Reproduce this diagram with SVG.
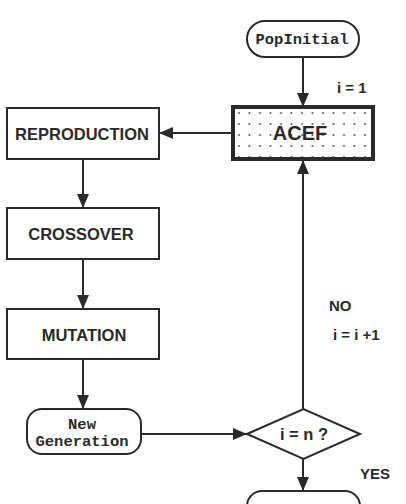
<svg xmlns="http://www.w3.org/2000/svg" width="406" height="504" viewBox="0 0 406 504">
<defs>
<marker id="ah" viewBox="0 0 14 12" refX="14" refY="6" markerWidth="14" markerHeight="12" markerUnits="userSpaceOnUse" orient="auto">
<path d="M0,0 L14,6 L0,12 Z" fill="#2a2a2a"/>
</marker>
<pattern id="dots" x="233" y="107" width="10.5" height="11" patternUnits="userSpaceOnUse">
<circle cx="6" cy="6" r="0.9" fill="#444"/>
</pattern>
<style>
.box{fill:#fff;stroke:#2a2a2a;stroke-width:2}
.lbl{font-family:"Liberation Sans",Arial,sans-serif;font-weight:bold;fill:#2a2a2a;text-anchor:middle}
.mono{font-family:"Liberation Mono","Courier New",monospace;font-weight:bold;fill:#2a2a2a;text-anchor:middle;font-size:15.5px}
.ann{font-family:"Liberation Sans",Arial,sans-serif;font-weight:bold;fill:#2a2a2a;font-size:15px}
.edge{fill:none;stroke:#2a2a2a;stroke-width:2;marker-end:url(#ah)}
</style>
</defs>
<rect width="406" height="504" fill="#fff"/>
<g id="connectors">
<path class="edge" d="M303,57 V107"/>
<path class="edge" d="M233,133 H159"/>
<path class="edge" d="M83,159 V208"/>
<path class="edge" d="M83,259 V309"/>
<path class="edge" d="M83,359 V409"/>
<path class="edge" d="M141,434 H247"/>
<path class="edge" d="M303,409 V160"/>
<path class="edge" d="M303,459 V491"/>
</g>
<g id="popinitial">
<rect class="box" x="247" y="21" width="112" height="36" rx="18"/>
<text class="mono" x="302" y="44">PopInitial</text>
</g>
<g id="acef">
<rect x="233" y="107" width="140" height="52" fill="#fff"/>
<rect x="233" y="107" width="140" height="52" fill="url(#dots)" stroke="#2a2a2a" stroke-width="4"/>
<text class="lbl" x="300" y="140" font-size="20px">ACEF</text>
</g>
<g id="reproduction">
<rect class="box" x="7" y="108" width="152" height="51"/>
<text class="lbl" x="82" y="139.5" font-size="16.5px">REPRODUCTION</text>
</g>
<g id="crossover">
<rect class="box" x="7" y="208" width="152" height="51"/>
<text class="lbl" x="81" y="240" font-size="16.5px">CROSSOVER</text>
</g>
<g id="mutation">
<rect class="box" x="7" y="309" width="152" height="50"/>
<text class="lbl" x="84" y="341" font-size="16.5px">MUTATION</text>
</g>
<g id="newgeneration">
<rect class="box" x="27" y="409" width="114" height="45" rx="15"/>
<text class="mono" x="82" y="429">New</text>
<text class="mono" x="82" y="446">Generation</text>
</g>
<g id="decision">
<polygon class="box" points="247,434 303.5,409 360,434 303.5,459"/>
<text class="lbl" x="304" y="440" font-size="16.5px">i = n ?</text>
</g>
<g id="end">
<rect class="box" x="247" y="491" width="113" height="36" rx="15"/>
</g>
<g id="annotations">
<text class="ann" x="337" y="93">i = 1</text>
<text class="ann" x="329" y="311" font-size="16px">NO</text>
<text class="ann" x="333" y="340">i = i +1</text>
<text class="ann" x="360" y="479" font-size="16px">YES</text>
</g>
</svg>
